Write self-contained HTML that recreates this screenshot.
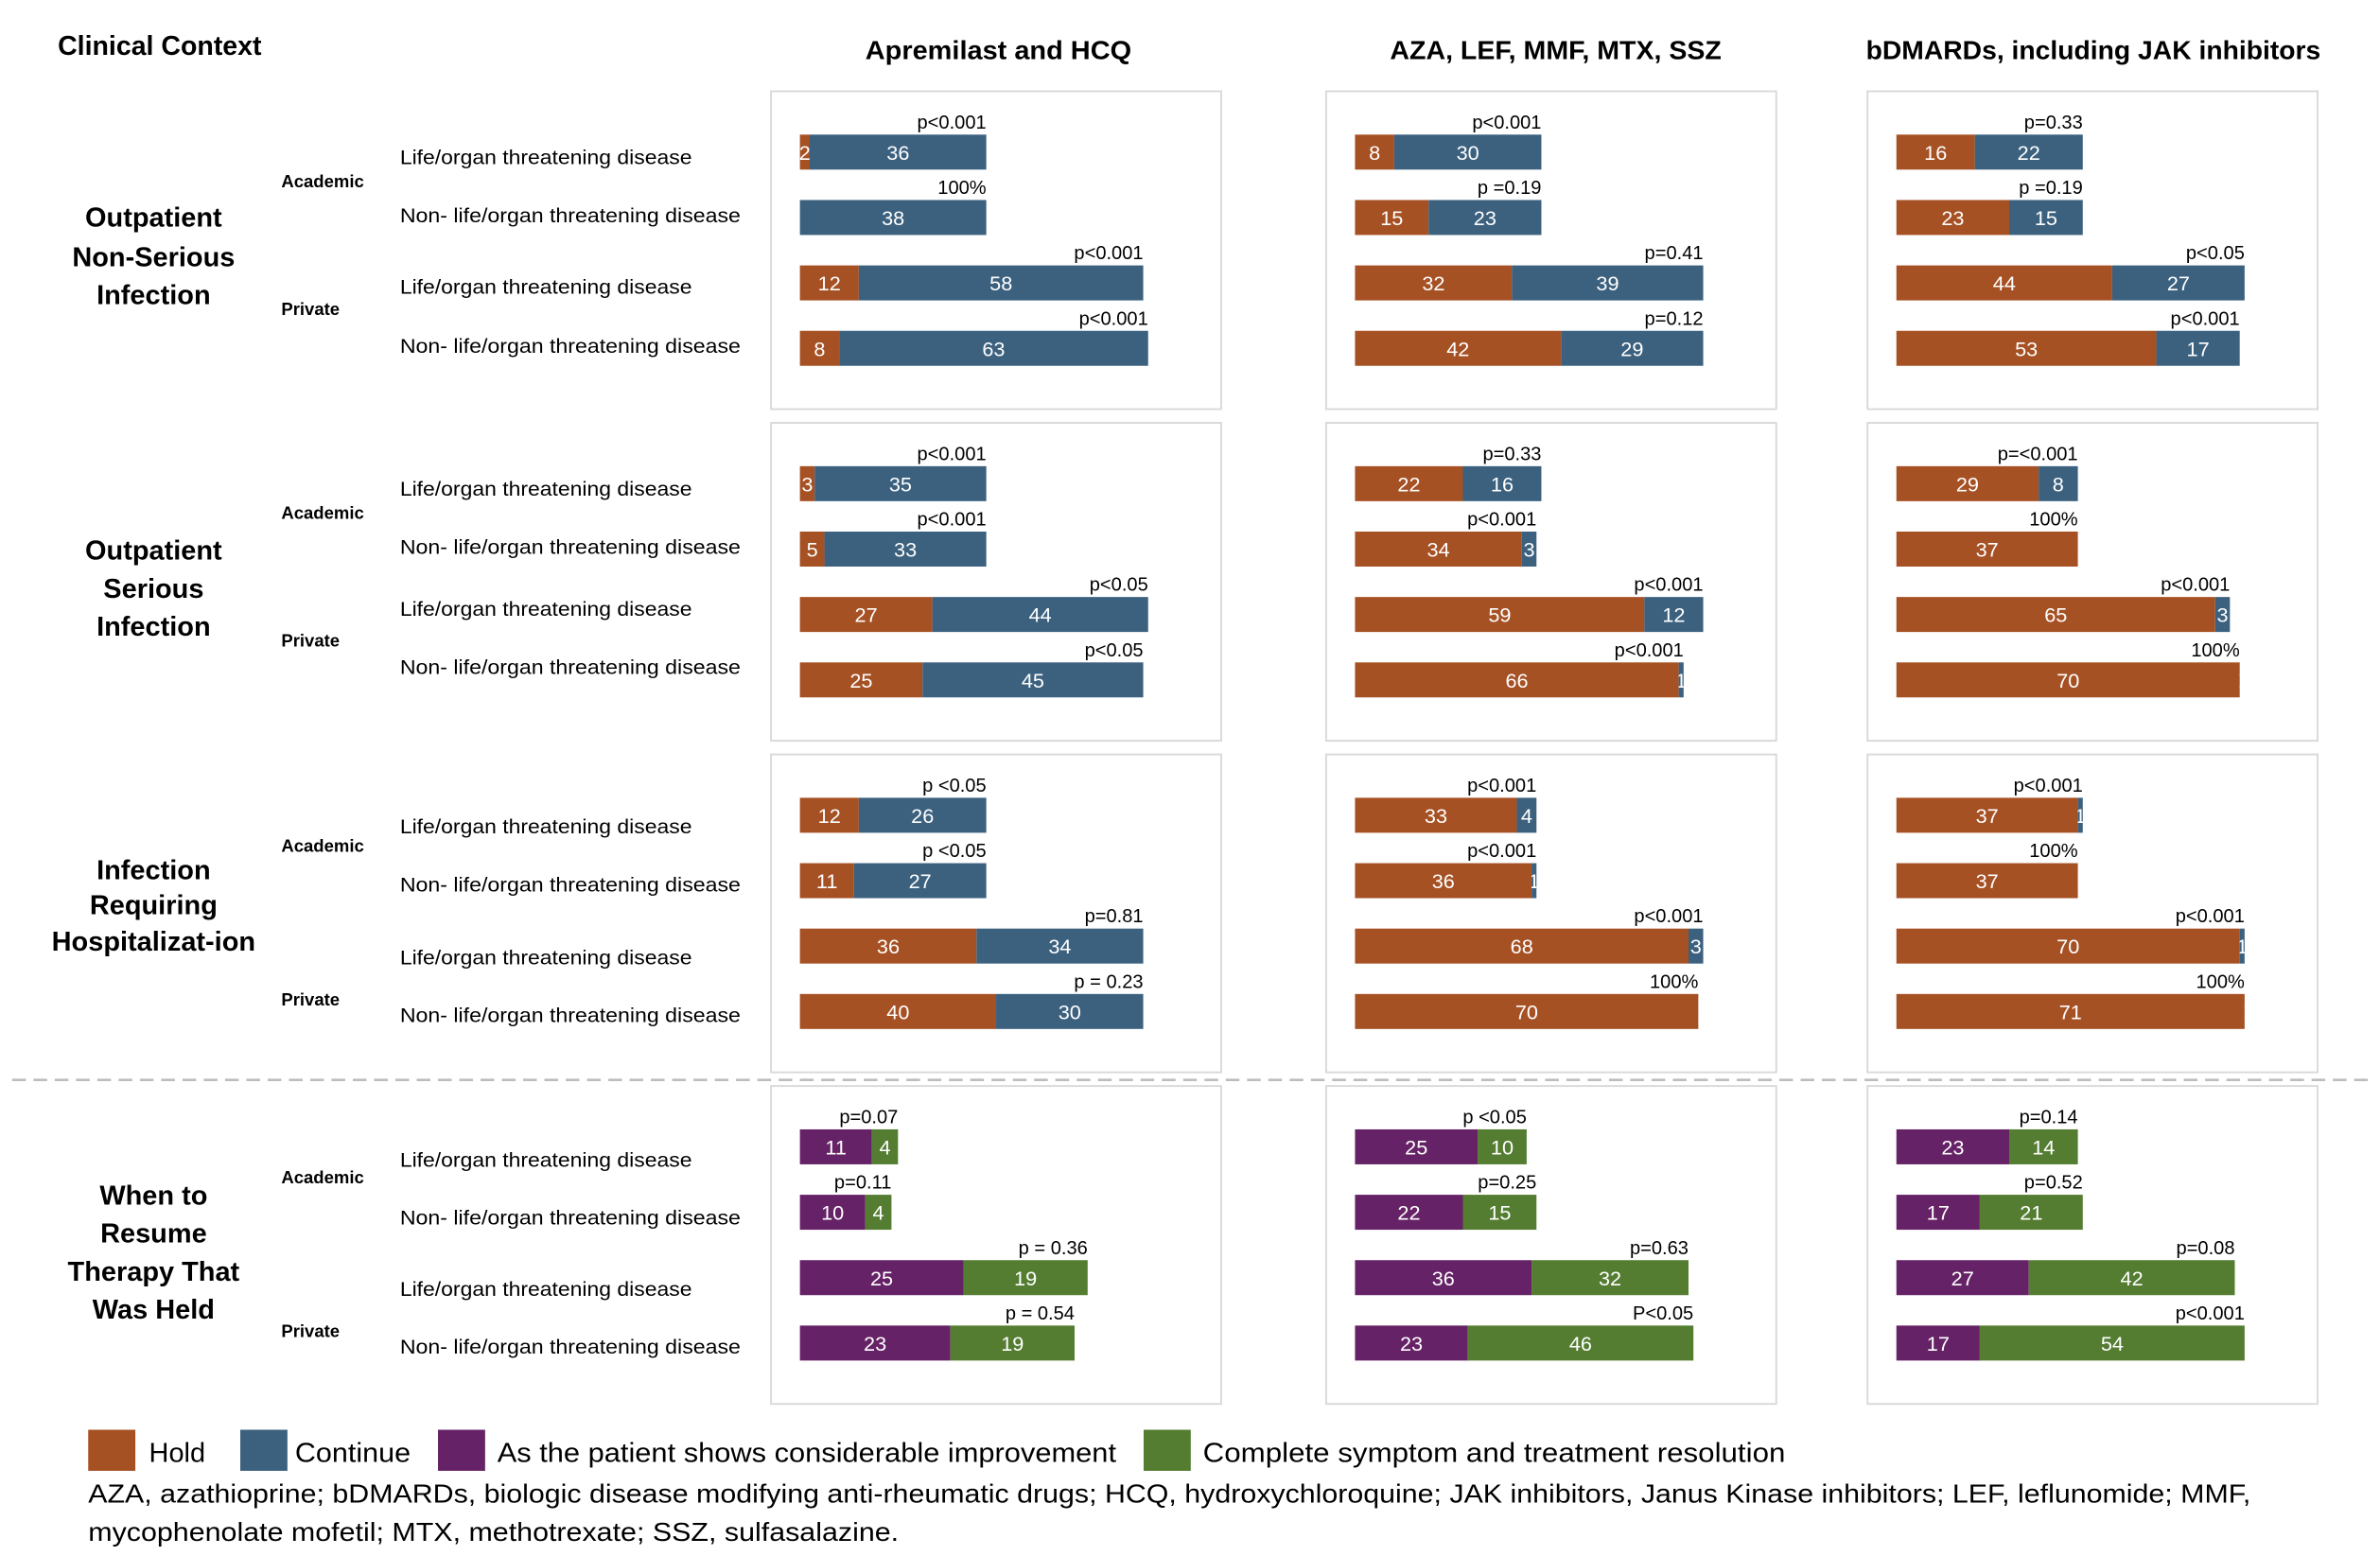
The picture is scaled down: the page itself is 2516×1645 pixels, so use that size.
<!DOCTYPE html>
<html><head><meta charset="utf-8"><style>
html,body{margin:0;padding:0;background:#fff;}
svg{display:block;font-family:"Liberation Sans",Arial,sans-serif;}
</style></head><body>
<svg id="chart" width="2516" height="1645" viewBox="0 0 1565 1023" preserveAspectRatio="none" xmlns="http://www.w3.org/2000/svg">
<rect x="0" y="0" width="1565" height="1023" fill="#fff"/>
<text x="38" y="36" font-size="18" font-weight="bold" textLength="134" lengthAdjust="spacingAndGlyphs">Clinical Context</text>
<text x="569" y="39" font-size="17" font-weight="bold" textLength="175" lengthAdjust="spacingAndGlyphs">Apremilast and HCQ</text>
<text x="914" y="39" font-size="17" font-weight="bold" textLength="218" lengthAdjust="spacingAndGlyphs">AZA, LEF, MMF, MTX, SSZ</text>
<text x="1227" y="39" font-size="17" font-weight="bold" textLength="299" lengthAdjust="spacingAndGlyphs">bDMARDs, including JAK inhibitors</text>
<line x1="8" y1="710" x2="1562" y2="710" stroke="#bdbdbd" stroke-width="1.6" stroke-dasharray="9,5"/>
<g id="rows"></g>
<g id="panels"></g>
<g>
<rect x="58" y="940" width="31" height="27" fill="#A65124"/>
<text x="98" y="961" font-size="18">Hold</text>
<rect x="158" y="940" width="31" height="27" fill="#3C617F"/>
<text x="194" y="961" font-size="18" textLength="76" lengthAdjust="spacingAndGlyphs">Continue</text>
<rect x="288" y="940" width="31" height="27" fill="#662266"/>
<text x="327" y="961" font-size="18" textLength="407" lengthAdjust="spacingAndGlyphs">As the patient shows considerable improvement</text>
<rect x="752" y="940" width="31" height="27" fill="#547D31"/>
<text x="791" y="961" font-size="18" textLength="383" lengthAdjust="spacingAndGlyphs">Complete symptom and treatment resolution</text>
</g>
<text x="58" y="988" font-size="17" textLength="1422" lengthAdjust="spacingAndGlyphs">AZA, azathioprine; bDMARDs, biologic disease modifying anti-rheumatic drugs; HCQ, hydroxychloroquine; JAK inhibitors, Janus Kinase inhibitors; LEF, leflunomide; MMF,</text>
<text x="58" y="1013" font-size="17" textLength="533" lengthAdjust="spacingAndGlyphs">mycophenolate mofetil; MTX, methotrexate; SSZ, sulfasalazine.</text>
</svg>
<script>
// Data: 4 groups x 4 rows per column (first segment, second segment, p label)
const groupNames = [["Outpatient","Non-Serious","Infection"],["Outpatient","Serious","Infection"],["Infection","Requiring","Hospitalizat-ion"],["When to","Resume","Therapy That","Was Held"]];
const rowLabels = ["Life/organ threatening disease","Non- life/organ threatening disease","Life/organ threatening disease","Non- life/organ threatening disease"];
const col1First = [2,0,12,8, 3,5,27,25, 12,11,36,40, 11,10,25,23];
const col1Second = [36,38,58,63, 35,33,44,45, 26,27,34,30, 4,4,19,19];
const col1P = ["p<0.001","100%","p<0.001","p<0.001","p<0.001","p<0.001","p<0.05","p<0.05","p <0.05","p <0.05","p=0.81","p = 0.23","p=0.07","p=0.11","p = 0.36","p = 0.54"];
const col2First = [8,15,32,42, 22,34,59,66, 33,36,68,70, 25,22,36,23];
const col2Second = [30,23,39,29, 16,3,12,1, 4,1,3,0, 10,15,32,46];
const col2P = ["p<0.001","p =0.19","p=0.41","p=0.12","p=0.33","p<0.001","p<0.001","p<0.001","p<0.001","p<0.001","p<0.001","100%","p <0.05","p=0.25","p=0.63","P<0.05"];
const col3First = [16,23,44,53, 29,37,65,70, 37,37,70,71, 23,17,27,17];
const col3Second = [22,15,27,17, 8,0,3,0, 1,0,1,0, 14,21,42,54];
const col3P = ["p=0.33","p =0.19","p<0.05","p<0.001","p=<0.001","100%","p<0.001","100%","p<0.001","100%","p<0.001","100%","p=0.14","p=0.52","p=0.08","p<0.001"];

const NS = "http://www.w3.org/2000/svg";
function mk(tag, attrs, parent){const e=document.createElementNS(NS,tag);for(const k in attrs)e.setAttribute(k,attrs[k]);parent.appendChild(e);return e;}
const rowsG=document.getElementById('rows'), panelsG=document.getElementById('panels');
const panelTops=[60,278,496,714], panelLefts=[507,872,1228], panelW=296, panelH=209;
const barOffsets=[40,83,126,169];
const labelOffsetsByGroup=[[43,81,128,167],[43,81,122,160],[47,85,133,171],[48,86,133,171]];
const subOffsetsByGroup=[[59,143],[59,143],[60,161],[60,161]];
const headingStarts=[[143,169,194],[362,387,412],[572,595,619],[786,811,836,861]];
const cols=[[col1First,col1Second,col1P],[col2First,col2Second,col2P],[col3First,col3Second,col3P]];
const colorsTop=["#A65124","#3C617F"], colorsBottom=["#662266","#547D31"];
let clipId=0;
function xScale(col,grp,v){const s=(col===0&&grp===3)?4.3:3.225;return v*s;}

for(let g=0;g<4;g++){
  const top=panelTops[g];
  headingStarts[g].forEach((y,i)=>{
    const t=mk('text',{x:101,y:y+6,'font-size':18,'font-weight':'bold','text-anchor':'middle'},rowsG);
    
    
    t.textContent=groupNames[g][i];
  });
  ["Academic","Private"].forEach((s,i)=>{
    const t=mk('text',{x:185,y:top+subOffsetsByGroup[g][i]+4,'font-size':11.5,'font-weight':'bold'},rowsG);
    
    
    t.textContent=s;
  });
  for(let r=0;r<4;r++){
    const t=mk('text',{x:263,y:top+labelOffsetsByGroup[g][r]+5,'font-size':13.5,textLength:(r%2?224:192),lengthAdjust:'spacingAndGlyphs'},rowsG);
    
    
    t.textContent=rowLabels[r];
  }
  for(let c=0;c<3;c++){
    const px=panelLefts[c];
    const p=mk('rect',{x:px,y:top,width:panelW,height:panelH,fill:'#fff',stroke:'#d9d9d9','stroke-width':1.2},panelsG);
    
    
    const x0=px+19;
    const [A,B,P]=cols[c];
    const colors=g===3?colorsBottom:colorsTop;
    for(let r=0;r<4;r++){
      const i=g*4+r, cy=top+barOffsets[r], h=23, y=cy-h/2;
      const wa=xScale(c,g,A[i]), wb=xScale(c,g,B[i]);
      [[x0,wa,A[i],colors[0],'bar-segment-first'],[x0+wa,wb,B[i],colors[1],'bar-segment-second']].forEach(([sx,w,v,col,name])=>{
        const rr=mk('rect',{x:sx,y:y,width:Math.max(w,0),height:h,fill:col},panelsG);
        
        
        const id='cl'+(clipId++);
        const cp=mk('clipPath',{id:id},panelsG);
        mk('rect',{x:sx,y:y,width:Math.max(w,1.5),height:h},cp);
        const t=mk('text',{x:sx+Math.max(w,1.5)/2,y:cy+5,'font-size':13.5,fill:'#fff','text-anchor':'middle','clip-path':'url(#'+id+')'},panelsG);
        
        
        t.textContent=v;
      });
      const pt=mk('text',{x:x0+wa+wb,y:y-4,'font-size':12.5,'text-anchor':'end'},panelsG);
      
      
      pt.textContent=P[i];
    }
  }
}
</script>
</body></html>
